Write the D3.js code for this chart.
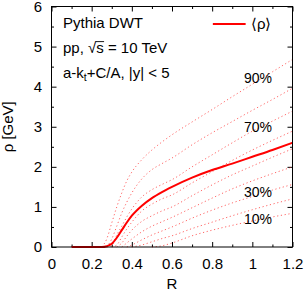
<!DOCTYPE html>
<html>
<head>
<meta charset="utf-8">
<script src="https://cdn.jsdelivr.net/npm/d3@7"></script>
<style>
  body { margin: 0; background: #fff; }
  svg { display: block; font-family: "Liberation Sans", Arial, Helvetica, sans-serif; }
</style>
</head>
<body>
<div class="rho-chart"></div>
<script>
const rGrid = [0.1, 0.25, 0.275, 0.3, 0.325, 0.35, 0.375, 0.4, 0.45, 0.5, 0.55, 0.6, 0.7, 0.8, 0.9, 1.0, 1.1, 1.2];

// mean rho (solid)
const meanRho = [0, 0, 0.02, 0.08, 0.23, 0.42, 0.61, 0.78, 1.03, 1.22, 1.37, 1.5, 1.73, 1.92, 2.08, 2.25, 2.42, 2.6];

// percentile bands (dotted)
const pct10 = [0, 0, 0, 0, 0, 0, 0, 0, 0, 0, 0.03, 0.1, 0.28, 0.42, 0.54, 0.65, 0.75, 0.84];
const pct20 = [0, 0, 0, 0, 0, 0, 0, 0, 0.05, 0.13, 0.21, 0.28, 0.46, 0.62, 0.78, 0.93, 1.07, 1.2];
const pct30 = [0, 0, 0, 0, 0, 0, 0, 0.05, 0.18, 0.3, 0.4, 0.5, 0.72, 0.92, 1.1, 1.26, 1.42, 1.56];
const pct40 = [0, 0, 0, 0, 0, 0, 0.1, 0.2, 0.38, 0.52, 0.63, 0.74, 0.98, 1.22, 1.45, 1.65, 1.83, 2.0];
const pct50 = [0, 0, 0, 0, 0, 0.1, 0.27, 0.42, 0.64, 0.78, 0.9, 1.0, 1.28, 1.55, 1.8, 2.02, 2.24, 2.45];
const pct60 = [0, 0, 0, 0, 0.05, 0.25, 0.45, 0.62, 0.9, 1.07, 1.2, 1.3, 1.6, 1.88, 2.16, 2.42, 2.66, 2.89];
const pct70 = [0, 0, 0, 0.03, 0.3, 0.52, 0.75, 0.95, 1.25, 1.43, 1.56, 1.68, 2.0, 2.3, 2.6, 2.89, 3.14, 3.39];
const pct80 = [0, 0, 0, 0.2, 0.52, 0.85, 1.12, 1.35, 1.7, 1.93, 2.08, 2.22, 2.55, 2.85, 3.13, 3.41, 3.68, 3.96];
const pct90 = [0, 0, 0.2, 0.6, 1.0, 1.35, 1.65, 1.87, 2.18, 2.42, 2.62, 2.8, 3.12, 3.43, 3.75, 4.06, 4.37, 4.68];

const percentiles = [pct10, pct20, pct30, pct40, pct50, pct60, pct70, pct80, pct90];

// which percentile labels are printed, and the rho they sit next to at R ~ 1
const pctLabels = ['90%', '70%', '30%', '10%'];
const pctLabelRho = [4.09, 2.87, 1.24, 0.58];

const xTicks = [0, 0.2, 0.4, 0.6, 0.8, 1, 1.2];
const xMinor = [0.1, 0.3, 0.5, 0.7, 0.9, 1.1];
const yTicks = [0, 1, 2, 3, 4, 5, 6];
const yMinor = [0.5, 1.5, 2.5, 3.5, 4.5, 5.5];

const infoLines = ['Pythia DWT', 'pp, √s = 10 TeV', 'a-k|t|+C/A, |y| < 5'];

let config = {
  container: '.rho-chart',
  width: 305,
  height: 291,
  margin: { top: 6.5, right: 12.5, bottom: 44, left: 51.5 },
  fontSize: 15,
  red: '#ff0000'
};

function render() {
  const m = config.margin;
  const w = config.width - m.left - m.right;
  const h = config.height - m.top - m.bottom;

  const svg = d3.select(config.container)
    .append('svg')
    .attr('width', config.width)
    .attr('height', config.height);

  const g = svg.append('g').attr('transform', `translate(${m.left},${m.top})`);

  const x = d3.scaleLinear().domain([0, 1.2]).range([0, w]);
  const y = d3.scaleLinear().domain([0, 6]).range([h, 0]);

  // ticks on all four sides, pointing inward
  const axisStyle = sel => {
    sel.select('.domain').remove();
    sel.selectAll('line').attr('stroke', '#000');
    sel.selectAll('text').attr('fill', '#000').attr('font-size', config.fontSize);
    sel.attr('font-family', null);
  };

  g.append('g').attr('transform', `translate(0,${h})`)
    .call(d3.axisBottom(x).tickValues(xTicks).tickSize(-5).tickPadding(11).tickFormat(d3.format('')))
    .call(axisStyle);
  g.append('g').attr('transform', `translate(0,${h})`)
    .call(d3.axisBottom(x).tickValues(xMinor).tickSize(-2.5).tickFormat(''))
    .call(axisStyle);
  g.append('g')
    .call(d3.axisTop(x).tickValues(xTicks).tickSize(-5).tickFormat(''))
    .call(axisStyle);
  g.append('g')
    .call(d3.axisTop(x).tickValues(xMinor).tickSize(-2.5).tickFormat(''))
    .call(axisStyle);

  g.append('g')
    .call(d3.axisLeft(y).tickValues(yTicks).tickSize(-5).tickPadding(9.5).tickFormat(d3.format('')))
    .call(axisStyle);
  g.append('g')
    .call(d3.axisLeft(y).tickValues(yMinor).tickSize(-2.5).tickFormat(''))
    .call(axisStyle);
  g.append('g').attr('transform', `translate(${w},0)`)
    .call(d3.axisRight(y).tickValues(yTicks).tickSize(-5).tickFormat(''))
    .call(axisStyle);
  g.append('g').attr('transform', `translate(${w},0)`)
    .call(d3.axisRight(y).tickValues(yMinor).tickSize(-2.5).tickFormat(''))
    .call(axisStyle);

  const line = d3.line()
    .x(d => x(d[0]))
    .y(d => y(d[1]))
    .curve(d3.curveMonotoneX);

  // dotted percentile curves, drawn from where they leave zero
  percentiles.forEach(vals => {
    let first = vals.findIndex(v => v > 0);
    first = Math.max(first - 1, 0);
    const pts = rGrid.map((r, i) => [r, vals[i]]).slice(first);
    g.append('path')
      .attr('d', line(pts))
      .attr('fill', 'none')
      .attr('stroke', config.red)
      .attr('stroke-opacity', 0.6)
      .attr('stroke-width', 1)
      .attr('stroke-dasharray', '1.2,2.6');
  });

  // mean
  g.append('path')
    .attr('d', line(rGrid.map((r, i) => [r, meanRho[i]])))
    .attr('fill', 'none')
    .attr('stroke', config.red)
    .attr('stroke-width', 2);

  // frame
  g.append('rect')
    .attr('width', w)
    .attr('height', h)
    .attr('fill', 'none')
    .attr('stroke', '#000')
    .attr('stroke-width', 1);

  // percentile labels
  g.selectAll('.pct-label')
    .data(pctLabels)
    .enter()
    .append('text')
    .attr('class', 'pct-label')
    .attr('x', x(1.098))
    .attr('y', (d, i) => y(pctLabelRho[i]))
    .attr('text-anchor', 'end')
    .attr('font-size', 14)
    .text(d => d);

  // info text block
  infoLines.forEach((txt, i) => {
    const t = g.append('text')
      .attr('x', 11.5)
      .attr('y', 21.8 + i * 24.6)
      .attr('font-size', config.fontSize);
    const parts = txt.split('|t|');
    if (parts.length > 1) {
      t.append('tspan').text(parts[0]);
      t.append('tspan').attr('font-size', 10.5).attr('dy', 3.5).text('t');
      t.append('tspan').attr('dy', -3.5).text(parts[1]);
    } else {
      t.text(txt);
    }
    if (txt.indexOf('√') >= 0) {
      // bar over the s of the square root
      const node = t.node();
      const k = txt.indexOf('√');
      const x0 = 11.5 + node.getSubStringLength(0, k + 1);
      const x1 = x0 + node.getSubStringLength(k + 1, 1);
      g.append('line')
        .attr('x1', x0 - 0.5).attr('x2', x1 + 0.3)
        .attr('y1', 21.8 + i * 24.6 - 11.3).attr('y2', 21.8 + i * 24.6 - 11.3)
        .attr('stroke', '#000').attr('stroke-width', 0.9);
    }
  });

  // legend
  g.append('line')
    .attr('x1', x(0.8034)).attr('x2', x(0.9667))
    .attr('y1', 17.5).attr('y2', 17.5)
    .attr('stroke', config.red)
    .attr('stroke-width', 2);
  g.append('text')
    .attr('x', x(0.993))
    .attr('y', 22)
    .attr('font-size', config.fontSize)
    .text('⟨ρ⟩');

  // axis titles
  svg.append('text')
    .attr('x', m.left + w / 2)
    .attr('y', 289)
    .attr('text-anchor', 'middle')
    .attr('font-size', config.fontSize)
    .text('R');
  svg.append('text')
    .attr('transform', `translate(13,${m.top + h / 2}) rotate(-90)`)
    .attr('text-anchor', 'middle')
    .attr('font-size', config.fontSize)
    .text('ρ [GeV]');
}

render();
</script>
</body>
</html>
